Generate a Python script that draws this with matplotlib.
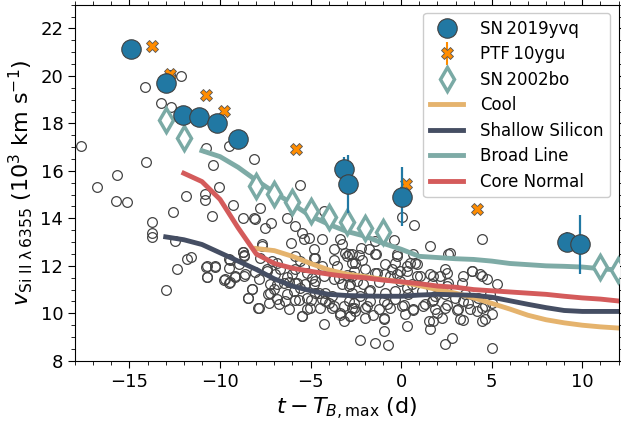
import matplotlib
matplotlib.use("Agg")
import matplotlib.pyplot as plt
import numpy as np
from matplotlib.ticker import AutoMinorLocator
from matplotlib.legend_handler import HandlerErrorbar

# SN 2019yvq Si II velocities
yvq_phase = [-14.9, -12.97, -12.03, -11.14, -10.16, -9.0, -3.18, -2.94, 0.04, 9.17, 9.87]
yvq_vel = [21.12, 19.69, 18.36, 18.26, 18.03, 17.34, 16.08, 15.44, 14.92, 13.01, 12.9]
yvq_err = [0.4, 0.3, 0.3, 0.3, 0.3, 0.3, 0.5, 1.22, 1.23, 0.4, 1.25]

# PTF 10ygu
ptf_phase = [-13.74, -12.77, -10.75, -9.76, -5.79, 0.28, 4.21]
ptf_vel = [21.27, 20.08, 19.2, 18.54, 16.93, 15.46, 14.39]

# SN 2002bo
bo_phase = [-12.97, -12.0, -8.0, -7.0, -6.0, -5.0, -4.0, -3.0, -2.0, -1.0, 11.0, 11.96]
bo_vel = [18.15, 17.4, 15.37, 15.04, 14.71, 14.29, 14.06, 13.84, 13.58, 13.42, 11.96, 11.84]

# subclass templates
cool_phase = [-8, -7, -6, -5, -4, -3, -2, -1, 0, 1, 2, 3, 4, 5, 6, 7, 8, 9, 10, 11, 12]
cool_vel = [12.73, 12.64, 12.4, 12.1, 11.83, 11.65, 11.55, 11.43, 11.32, 11.17, 11.0,
            10.85, 10.65, 10.42, 10.18, 9.92, 9.73, 9.6, 9.5, 9.43, 9.38]

ss_phase = [-13, -12, -11, -10, -9, -8, -7, -6, -5, -4, -3, -2, -1, 0, 1, 2, 3, 4, 5,
            6, 7, 8, 9, 10, 11, 12]
ss_vel = [13.22, 13.1, 12.9, 12.55, 12.2, 11.85, 11.45, 11.15, 10.95, 10.8, 10.75, 10.73,
          10.72, 10.72, 10.77, 10.8, 10.78, 10.76, 10.68, 10.53, 10.38, 10.24, 10.12,
          10.08, 10.08, 10.08]

bl_phase = [-11, -10, -9, -8, -7, -6, -5, -4, -3, -2, -1, 0, 1, 2, 3, 4, 5, 6, 7, 8, 9,
            10, 11, 12]
bl_vel = [16.85, 16.6, 16.15, 15.6, 15.1, 14.6, 14.1, 13.75, 13.45, 13.25, 12.95, 12.7,
          12.4, 12.35, 12.3, 12.27, 12.2, 12.1, 12.05, 12.0, 11.98, 11.95, 11.88, 11.82]

cn_phase = [-12, -11, -10, -9, -8, -7, -6, -5, -4, -3, -2, -1, 0, 1, 2, 3, 4, 5, 6, 7,
            8, 9, 10, 11, 12]
cn_vel = [15.9, 15.55, 14.8, 13.6, 12.5, 12.1, 11.9, 11.77, 11.65, 11.55, 11.5, 11.4,
          11.33, 11.25, 11.15, 11.1, 11.0, 10.95, 10.9, 10.85, 10.8, 10.72, 10.65, 10.6,
          10.52]

# comparison sample
sample_phase = [
    -17.69, -16.77, -15.67, -15.76, -15.15, -14.16, -14.07, -13.26, -12.73, -12.77,
    -12.16, -12.58, -11.88, -10.76, -10.38, -10.85, -10.85, -10.06, -9.48, -9.27,
    -8.1, -7.77, -5.56, -10.47, -8.74, -8.1, -6.3,
    -13.75, -13.75, -13.75, -12.46, -12.37, -12.97, -11.82, -11.58, -10.77, -10.71,
    -10.26, -8.05, -7.17, -7.5, -9.74, -9.43, -9.52, -9.15, -8.69, -8.73, -8.66,
    -8.23, -8.47, -7.87, -7.68, -7.41, -7.26,
    -5.84, -5.47, -5.38, -5.07, -6.06, -4.37, -4.24, -3.36, -3.27, -3.73, -3.08,
    -2.71, -4.83, -4.74, -5.56, -5.38, -5.2, -5.84, -6.02, -6.3, -6.67, -6.85, -7.4,
    -7.12, -7.77, -7.71, -8.72, -8.69, -9.46, -8.96, -9.51, -8.63, -8.08, -7.86,
    -9.79, -9.48, -9.18, -10.71, -10.29, -10.71, -8.26, -8.45, -7.9, -7.31, -7.22,
    -7.03, -6.85, -6.76, -6.39, -6.21, -6.85, -6.21, -5.84, -5.6, -5.29, -4.92,
    -4.83, -5.65, -5.47, -5.2, -4.96, -4.46, -4.28, -4.37, -4.0, -3.82, -4.18,
    -3.73, -3.36, -3.17, -2.81, -3.45, -3.73, -3.27, -2.9, -2.71, -4.37, -3.54,
    -2.99, -2.9, -2.71, -6.94, -6.48, -5.93, -4.74, -7.35, -6.3,
    0.04, 0.72, -0.42, -1.43, 1.6, 2.61, 4.48, -2.2, -1.76, -1.4, -2.35, -2.9,
    -0.24, 0.68, 0.77, 0.31, -0.33, -0.88, -2.54, -1.98, -2.63, -1.43, -0.88,
    -0.24, 0.86, 1.6, 2.43, 2.15, 3.44, 3.9, 4.36, 4.72, 3.35, 2.61, 1.69, 0.59,
    -0.06, -1.25, -2.08, -2.81, -2.72, -1.8, -0.88, -0.33, 0.4, 1.14, 1.87, 2.43,
    2.98, 3.53, 4.26, 4.91, 4.45, 3.8, 3.16, 2.43, 1.87, 1.32, 0.68, 0.04, -0.79,
    -1.25, -1.98, -2.63, -2.81, -1.98, -0.97, 0.22, 0.31, 1.51, 1.6, 2.24, 3.25,
    4.63, 4.99, -0.97, -2.26, -1.47, -0.7, 2.43, 2.79, 4.99, 0.31, -0.51, -1.71,
    -2.26, -0.33, 1.69, 3.71, 4.99, 5.27,
    -5.84, -4.83, -3.73, -2.72, -2.17, -1.43, -0.24, 0.5, 0.86, 2.7, 1.78, 2.52,
    3.9, 4.45, -5.75, -4.74, -4.28, -3.0, -2.45, -1.34, -0.61, -0.06, 1.05, -5.84,
    -5.2, -4.56, -4.19, -3.82, -3.18, -2.63, -2.54, -1.89, -1.53, -0.97, -0.61, 0.13,
    0.68, 1.23, 1.78, 1.96, 2.52, 3.07, 3.44, 4.17, 4.63, -5.48, -3.36, -0.97, 1.78,
    3.44, 4.45, -5.02, -1.71, 2.52, 0.31,
]
sample_vel = [
    17.06, 15.32, 15.81, 14.72, 14.69, 19.55, 16.36, 18.85, 18.67, 20.04,
    19.98, 14.25, 14.95, 16.96, 16.23, 15.04, 14.79, 15.3, 17.03, 14.55,
    16.5, 14.44, 15.42, 14.09, 14.02, 14.02, 14.02,
    13.84, 13.39, 13.22, 13.04, 11.85, 10.98, 12.27, 12.38, 11.96, 11.54,
    11.96, 13.98, 13.81, 13.6, 11.43, 11.32, 12.3, 11.54, 11.57, 12.58, 12.44,
    11.01, 10.66, 10.24, 12.94, 11.85, 11.22,
    13.67, 13.39, 13.11, 13.18, 12.97, 13.11, 14.3, 13.15, 12.9, 12.69, 12.55,
    12.13, 12.69, 12.34, 12.2, 11.95, 11.71, 11.85, 11.64, 11.53, 11.85, 12.13, 11.78,
    12.2, 12.34, 12.83, 12.59, 12.41, 12.23, 12.06, 11.92, 11.64, 11.75, 11.43,
    11.39, 11.29, 11.57, 11.99, 11.99, 11.53, 11.01, 10.63, 10.24, 10.45, 10.87,
    11.01, 10.59, 10.38, 10.52, 10.17, 11.25, 11.33, 11.29, 11.08, 11.22, 11.5,
    11.22, 10.55, 9.89, 10.17, 10.55, 10.24, 9.54, 10.59, 10.45, 10.73, 10.87,
    10.31, 10.03, 9.68, 9.89, 11.5, 11.43, 11.22, 11.15, 11.57, 11.99, 11.99,
    12.41, 10.52, 10.24, 11.64, 11.29, 10.94, 10.87, 10.8, 10.8,
    14.05, 13.7, 13.07, 13.04, 12.83, 12.51, 13.15, 12.76, 12.72, 12.51, 12.44, 12.48,
    12.48, 12.48, 12.13, 11.99, 12.13, 12.06, 12.13, 11.85, 11.78, 11.71, 11.64,
    11.64, 11.57, 11.64, 11.85, 11.57, 11.57, 11.78, 11.64, 11.43, 11.29, 11.29, 11.22, 11.22,
    11.36, 11.33, 11.22, 11.22, 10.87, 10.94, 10.87, 10.94, 10.8, 10.94, 10.73, 10.8,
    10.66, 10.8, 10.66, 10.8, 10.24, 10.17, 10.17, 10.24, 10.17, 10.38, 10.17, 10.31, 10.38,
    10.17, 10.24, 10.24, 9.89, 9.82, 9.75, 9.96, 9.47, 9.68, 9.33, 9.82, 9.75,
    9.75, 9.96, 9.26, 8.88, 8.77, 8.67, 8.7, 8.98, 8.52, 11.78, 11.85, 10.52,
    10.73, 10.59, 10.52, 10.45, 10.45, 11.22,
    12.41, 12.33, 12.26, 12.48, 12.26, 12.48, 12.41, 12.12, 12.06, 12.54, 11.56, 11.7,
    11.78, 11.56, 11.28, 11.35, 11.56, 11.63, 11.35, 11.7, 11.56, 11.77, 11.56, 10.58,
    10.65, 10.86, 10.51, 10.24, 10.3, 10.44, 10.09, 10.3, 9.95, 10.51, 10.24, 10.37,
    10.16, 10.3, 10.58, 10.02, 10.37, 10.16, 10.51, 10.09, 10.3, 9.88, 9.95, 9.81, 9.67,
    9.74, 9.67, 10.23, 11.0, 11.14, 11.07,
]


def plot_velocities(out_path: str):
    fig = plt.figure(figsize=(6.21, 4.24), dpi=100)
    ax = fig.add_axes([0.121, 0.149, 0.875, 0.840])

    ax.plot(sample_phase, sample_vel, 'o', mfc='none', mec='#444444', ms=7, mew=0.9, zorder=1)

    ax.plot(cool_phase, cool_vel, color='#e5b36d', lw=3.5, label='Cool', zorder=2)
    ax.plot(ss_phase, ss_vel, color='#454e63', lw=3.5, label='Shallow Silicon', zorder=2)
    ax.plot(bl_phase, bl_vel, color='#7eaba6', lw=3.5, label='Broad Line', zorder=2)
    ax.plot(cn_phase, cn_vel, color='#d45b5b', lw=3.5, label='Core Normal', zorder=2)

    ax.plot(bo_phase, bo_vel, 'd', mfc='white', mec='#7aaaa5', ms=12, mew=2.5,
            label='SN\u20092002bo', zorder=3)
    ptf = ax.errorbar(ptf_phase, ptf_vel, yerr=0.1, fmt='X', color='#ff8c00', mec='#555555',
                      mew=0.6, ms=8, elinewidth=1.5, label='PTF\u200910ygu', zorder=4)
    ax.errorbar(yvq_phase, yvq_vel, yerr=yvq_err, fmt='o', color='#2178a3', mfc='#2178a3',
                mec='#404040', mew=0.8, ms=14, elinewidth=1.6, label='SN\u20092019yvq', zorder=5)

    ax.set_xlim(-18, 12)
    ax.set_ylim(8, 23)
    ax.set_xticks([-15, -10, -5, 0, 5, 10])
    ax.set_yticks([8, 10, 12, 14, 16, 18, 20, 22])
    ax.xaxis.set_minor_locator(AutoMinorLocator(5))
    ax.yaxis.set_minor_locator(AutoMinorLocator(4))
    ax.tick_params(which='both', direction='out', top=True, right=True, labelsize=13)
    ax.tick_params(which='major', length=5)
    ax.tick_params(which='minor', length=3)

    ax.set_xlabel(r'$t - T_{B,\rm max}$ (d)', fontsize=16)
    ax.set_ylabel(r'$v_{\rm Si\ II\ \lambda\,6355}$ ($10^3$ km s$^{-1}$)', fontsize=16)

    handles, labels = ax.get_legend_handles_labels()
    order = ['SN\u20092019yvq', 'PTF\u200910ygu', 'SN\u20092002bo', 'Cool',
             'Shallow Silicon', 'Broad Line', 'Core Normal']
    hmap = dict(zip(labels, handles))
    ax.legend([hmap[k] for k in order], order, loc='upper right', fontsize=12,
              framealpha=1.0, handletextpad=1.0, labelspacing=0.45, borderpad=0.4,
              handler_map={ptf: HandlerErrorbar(yerr_size=0.7)})

    fig.savefig(out_path, dpi=100)


if __name__ == '__main__':
    plot_velocities("out.png")
